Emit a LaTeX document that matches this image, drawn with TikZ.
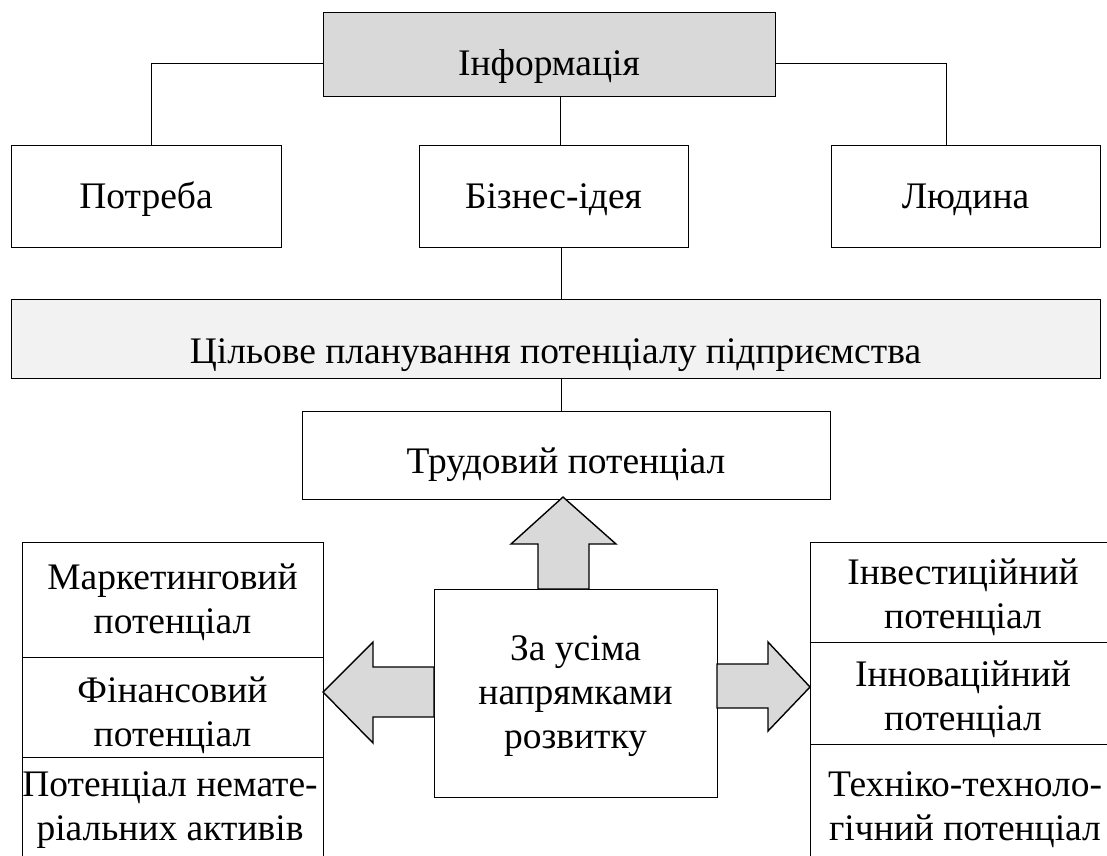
\documentclass[tikz,border=0pt]{standalone}
\usepackage{fontspec}
\setmainfont{Liberation Serif}
\definecolor{infgray}{HTML}{D9D9D9}
\definecolor{planfill}{HTML}{F2F2F2}
\definecolor{arrowgray}{HTML}{D9D9D9}
\begin{document}
\begin{tikzpicture}[x=1pt,y=-1pt,
  box/.style={draw, line width=1.4pt, inner sep=0pt, anchor=north west},
  conn/.style={line width=1.2pt},
  txt/.style={font=\fontsize{37.5}{44}\selectfont, anchor=base, inner sep=0pt, align=center},
  bigarrow/.style={draw, line width=1.4pt, fill=arrowgray, line join=miter}]
\useasboundingbox (0,0) rectangle (1107,855);
\clip (0,0) rectangle (1107,855);
% boxes
\node[box, fill=infgray, minimum width=452pt, minimum height=84pt] (inf) at (323,12) {};
\node[box, minimum width=270pt, minimum height=102pt] (pot) at (11,145) {};
\node[box, minimum width=269pt, minimum height=102pt] (biz) at (419,145) {};
\node[box, minimum width=269pt, minimum height=102pt] (lyud) at (831,145) {};
\node[box, fill=planfill, minimum width=1089pt, minimum height=79pt] (plan) at (11,299) {};
\node[box, minimum width=528pt, minimum height=88pt] (trud) at (302,411) {};
\node[box, minimum width=283pt, minimum height=208pt] (dir) at (434,589) {};
\node[box, minimum width=301pt, minimum height=115pt] (mk) at (22,542) {};
\node[box, minimum width=301pt, minimum height=100pt] (fin) at (22,657) {};
\node[box, minimum width=301pt, minimum height=130pt] (nem) at (22,757) {};
\node[box, minimum width=320pt, minimum height=100pt] (inv) at (810,542) {};
\node[box, minimum width=320pt, minimum height=102pt] (inn) at (810,642) {};
\node[box, minimum width=320pt, minimum height=130pt] (teh) at (810,744) {};
% connectors
\draw[conn] ([yshift=-9pt]inf.west) -| ([xshift=5pt]pot.north);
\draw[conn] ([yshift=-9pt]inf.east) -| ([xshift=-19.5pt]lyud.north);
\draw[conn] ([xshift=10.5pt]inf.south) -- ([xshift=10.5pt]inf.south |- biz.north);
\draw[conn] ([xshift=7.5pt]biz.south) -- ([xshift=7.5pt]biz.south |- plan.north);
\draw[conn] ([xshift=5.5pt]plan.south) -- ([xshift=5.5pt]plan.south |- trud.north);
% block arrows
\draw[bigarrow] (563,497) -- (616,544) -- (589,544) -- (589,589) -- (538,589) -- (538,544) -- (511,544) -- cycle;
\draw[bigarrow] (323,692) -- (373,642) -- (373,667) -- (434,667) -- (434,717) -- (373,717) -- (373,743) -- cycle;
\draw[bigarrow] (810,687) -- (768,642) -- (768,664) -- (717,664) -- (717,708) -- (768,708) -- (768,731) -- cycle;
% texts (base anchor = baseline of the last line)
\node[txt] (tinf) at (549,75) {Інформація};
\node[txt] (tpot) at (146,208) {Потреба};
\node[txt] (tbiz) at (553.5,208) {Бізнес-ідея};
\node[txt] (tlyud) at (965.5,208) {Людина};
\node[txt] (tplan) at (555.5,363) {Цільове планування потенціалу підприємства};
\node[txt] (ttrud) at (566,473) {Трудовий потенціал};
\node[txt] (tmk) at (172.5,633) {Маркетинговий\\потенціал};
\node[txt] (tfin) at (172.5,746) {Фінансовий\\потенціал};
\node[txt] (tnem) at (170,840) {Потенціал немате-\\ріальних активів};
\node[txt] (tinv) at (963,628) {Інвестиційний\\потенціал};
\node[txt] (tinn) at (963,730) {Інноваційний\\потенціал};
\node[txt] (tteh) at (965,840) {Техніко-техноло-\\гічний потенціал};
\node[txt] (tdir) at (575.5,748) {За усіма\\напрямками\\розвитку};
\end{tikzpicture}
\end{document}
